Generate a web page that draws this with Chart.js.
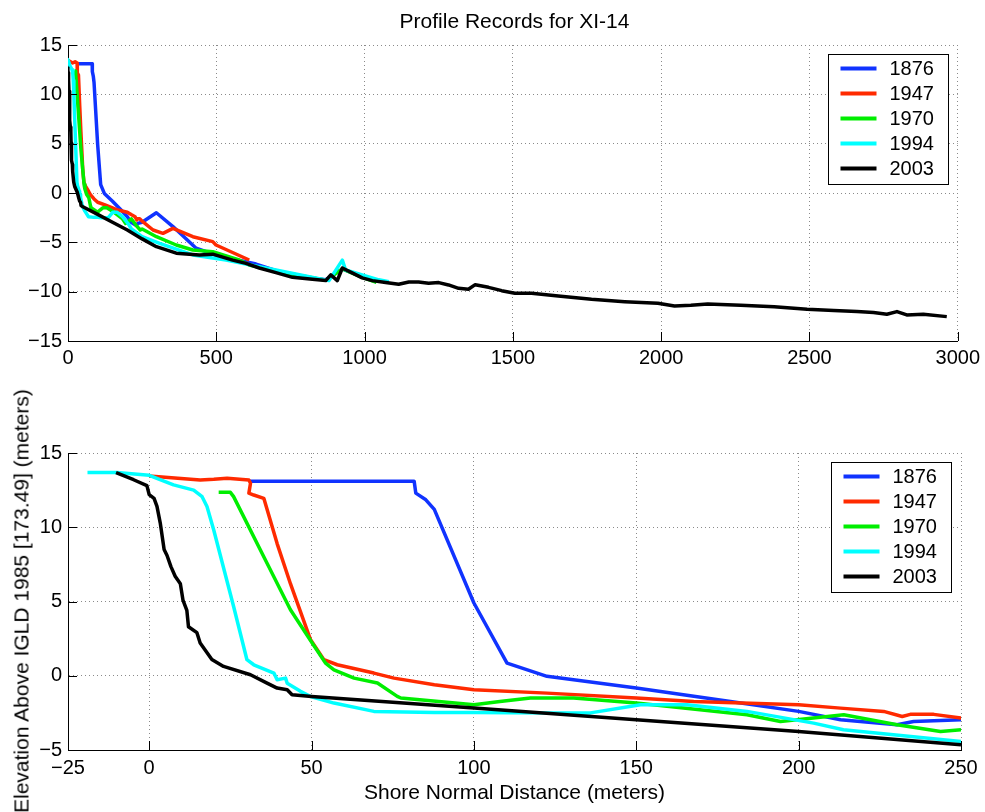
<!DOCTYPE html>
<html>
<head>
<meta charset="utf-8">
<title>Profile Records for XI-14</title>
<script src="https://cdn.jsdelivr.net/npm/chart.js@4.4.0/dist/chart.umd.min.js"></script>
<style>
  html, body { margin: 0; padding: 0; background: #fff; }
  #wrap { position: relative; width: 985px; height: 812px; overflow: hidden; font-family: "Liberation Sans", Arial, Helvetica, sans-serif; }
  .box { position: absolute; left: 0; width: 985px; }
  #top-box { top: 0; height: 380px; }
  #bottom-box { top: 380px; height: 432px; }
  #title { position: absolute; left: 68px; width: 893px; top: 8px; text-align: center; font-size: 21px; line-height: 25px; color: #000; }
  #ylabel { position: absolute; left: 21px; top: 601px; transform: translate(-50%, -50%) rotate(-90deg); white-space: nowrap; font-size: 21px; line-height: 25px; color: #000; }
</style>
</head>
<body>
<div id="wrap">
  <div class="box" id="top-box"><canvas id="topChart"></canvas></div>
  <div class="box" id="bottom-box"><canvas id="bottomChart"></canvas></div>
  <div id="title">Profile Records for XI-14</div>
  <div id="ylabel">Elevation Above IGLD 1985 [173.49] (meters)</div>
</div>
<script>
// survey years and line colours
const years = ["1876", "1947", "1970", "1994", "2003"];
const colors = ["#1033ff", "#ff2a00", "#00ee00", "#00ffff", "#000000"];

// tick values for both panels
const topXTicks = [0, 500, 1000, 1500, 2000, 2500, 3000];
const topYTicks = [-15, -10, -5, 0, 5, 10, 15];
const bottomXTicks = [-25, 0, 50, 100, 150, 200, 250];
const bottomYTicks = [-5, 0, 5, 10, 15];

// profiles: shore normal distance (m) and elevation (m)
const dist1876 = [31, 81.6, 82.1, 85.2, 87.8, 100, 110.2, 122.5, 150, 179, 200, 212.9, 230.3, 235.4, 250,
  297.9, 353.9, 432, 499, 634, 757, 869, 925, 992, 1040];
const elev1876 = [13.1, 13.1, 12.3, 11.85, 11.2, 4.9, 0.85, -0.04, -0.83, -1.73, -2.4, -2.96, -3.3, -3.08, -2.96,
  -2.0, -3.4, -5.6, -6.3, -7.2, -8.4, -8.8, -7.7, -8.5, -9.0];

const dist1947 = [0, 15.7, 19.9, 24, 30.7, 31.2, 30.7, 32.2, 35.3, 39.4, 43.5, 49.7, 53.8, 57.9, 69.2, 75.4, 87.8, 100,
  122.5, 150, 167.7, 200, 212.9, 226.2, 231.9, 234.4, 241.6, 250, 286.7, 320.3, 353.9, 421, 488, 499, 611];
const elev1947 = [13.45, 13.18, 13.23, 13.3, 13.18, 12.96, 12.3, 12.17, 11.95, 8.9, 6.2, 2.42, 1.08, 0.74, 0.18, -0.16, -0.6, -0.94,
  -1.17, -1.5, -1.73, -1.95, -2.18, -2.4, -2.74, -2.6, -2.6, -2.85, -3.75, -4.09, -3.58, -4.43, -4.93, -5.27, -6.79];

const dist1970 = [21.4, 25, 26, 36.3, 43.5, 50.2, 54.3, 56.9, 63.1, 70.3, 76.4, 77.5, 100, 108, 117.4, 130.7, 150,
  184.1, 194.4, 213.9, 230.3, 243.7, 250, 298, 365, 421, 488, 577, 611, 701, 869, 925, 992, 1040];
const elev1970 = [12.35, 12.35, 12.06, 7.58, 4.44, 2.2, 0.85, 0.4, -0.16, -0.49, -1.39, -1.5, -1.95, -1.73, -1.5, -1.5, -1.84,
  -2.63, -3.08, -2.63, -3.3, -3.75, -3.64, -4.43, -5.27, -5.78, -5.95, -6.79, -7.3, -7.9, -8.85, -7.7, -8.55, -9.05];

const dist1994 = [-19, -10, 0, 7.5, 13.7, 16.3, 17.8, 19.9, 26, 30.1, 32.2, 38.4, 39.4, 42, 42.5, 46.6, 49.7, 56.9, 69.2,
  87.8, 100, 112.2, 135.9, 151.3, 165.6, 184.1, 204.6, 213.8, 250, 309, 421, 533, 701, 880, 925, 936, 992, 1048, 1082];
const elev1994 = [13.68, 13.68, 13.5, 12.85, 12.5, 12.06, 11.4, 9.8, 4.66, 1.08, 0.74, 0.18, -0.27, -0.16, -0.5, -1.05, -1.4, -1.84, -2.4,
  -2.47, -2.47, -2.5, -2.5, -1.95, -1.95, -2.4, -3.19, -3.64, -4.42, -5.1, -6.28, -6.8, -7.8, -8.88, -6.8, -7.8, -8.3, -8.8, -8.99];

const dist2003 = [-10.2, -4.8, -0.7, 0, 1.5, 2.4, 3.4, 4.6, 5.5, 6.7, 8, 9.6, 10.4, 11.6, 12.1, 14.7, 15.7, 19.3, 22.9,
  31.2, 36.3, 39.4, 42.5, 44, 50, 100, 150, 200, 250, 298, 365, 443, 488, 555, 600, 645, 701, 757, 824, 869, 886,
  908, 925, 958, 992, 1026, 1071, 1115, 1149, 1182, 1216, 1250, 1283, 1317, 1350, 1373, 1418, 1462, 1507, 1563,
  1653, 1765, 1877, 1989, 2045, 2100, 2157, 2268, 2381, 2492, 2582, 2660, 2716, 2761, 2795, 2828, 2884, 2963];
const elev2003 = [13.68, 13.2, 12.8, 12.2, 11.95, 11.4, 10.3, 8.5, 8.1, 7.35, 6.7, 6.2, 5.1, 4.4, 3.3, 2.9, 2.2, 1.1, 0.63,
  0.07, -0.5, -0.83, -0.94, -1.28, -1.4, -2.17, -2.96, -3.75, -4.65, -5.44, -6.1, -6.28, -6.2, -6.8, -7.13, -7.6, -8.07, -8.55, -8.75, -8.88, -8.3,
  -8.88, -7.6, -8.1, -8.6, -8.88, -9.08, -9.25, -9.02, -9.02, -9.15, -9.08, -9.32, -9.66, -9.76, -9.29, -9.56, -9.9, -10.16, -10.16,
  -10.43, -10.77, -11.01, -11.18, -11.45, -11.38, -11.25, -11.38, -11.52, -11.79, -11.92, -12.02, -12.12, -12.29, -12.02, -12.36, -12.29, -12.53];

const distances = [dist1876, dist1947, dist1970, dist1994, dist2003];
const elevations = [elev1876, elev1947, elev1970, elev1994, elev2003];

const FONT = '"Liberation Sans", Arial, Helvetica, sans-serif';
Chart.defaults.font.family = FONT;
Chart.defaults.font.size = 20;
Chart.defaults.color = "#000";

function buildDatasets() {
  return years.map((year, i) => ({
    label: year,
    data: distances[i].map((d, k) => ({ x: d, y: elevations[i][k] })),
    borderColor: colors[i],
    backgroundColor: colors[i],
    borderWidth: 3.5,
    pointRadius: 0,
    tension: 0,
    fill: false,
    borderJoinStyle: "round",
    // later surveys drawn on top, as in the original
    order: years.length - 1 - i,
  }));
}

function minusSign(value) {
  return String(value).replace("-", "\u2212");
}

// short solid tick marks pointing into the plot
const inwardTicks = {
  id: "inwardTicks",
  afterDraw(chart) {
    const { ctx, chartArea, scales } = chart;
    ctx.save();
    ctx.strokeStyle = "#000";
    ctx.lineWidth = 1;
    ctx.beginPath();
    scales.x.ticks.forEach((t) => {
      const px = Math.round(scales.x.getPixelForValue(t.value)) + 0.5;
      ctx.moveTo(px, chartArea.bottom);
      ctx.lineTo(px, chartArea.bottom - 9);
    });
    scales.y.ticks.forEach((t) => {
      const py = Math.round(scales.y.getPixelForValue(t.value)) + 0.5;
      ctx.moveTo(chartArea.left, py);
      ctx.lineTo(chartArea.left + 9, py);
    });
    ctx.stroke();
    ctx.restore();
  },
};

// boxed legend in the upper right corner of the axes
const boxedLegend = {
  id: "boxedLegend",
  afterDraw(chart) {
    const { ctx, chartArea } = chart;
    const w = 120;
    const h = 130;
    const left = Math.round(chartArea.right - 10 - w) + 0.5;
    const top = Math.round(chartArea.top + 9) + 0.5;
    ctx.save();
    ctx.fillStyle = "#fff";
    ctx.fillRect(left, top, w, h);
    ctx.strokeStyle = "#000";
    ctx.lineWidth = 1;
    ctx.strokeRect(left, top, w, h);
    ctx.font = "20px " + FONT;
    ctx.textAlign = "left";
    ctx.textBaseline = "middle";
    years.forEach((year, i) => {
      const y = top + 14 + i * 25;
      ctx.strokeStyle = colors[i];
      ctx.lineWidth = 4;
      ctx.beginPath();
      ctx.moveTo(left + 12, y);
      ctx.lineTo(left + 48, y);
      ctx.stroke();
      ctx.fillStyle = "#000";
      ctx.fillText(year, left + 61, y + 1);
    });
    ctx.restore();
  },
};

function axis(ticksList, min, max, extra) {
  return Object.assign(
    {
      type: "linear",
      min: min,
      max: max,
      afterBuildTicks: (scale) => {
        scale.ticks = ticksList.map((v) => ({ value: v }));
      },
      grid: { color: "#8a8a8a", lineWidth: 1, drawTicks: false },
      border: { display: true, color: "#000", width: 1, dash: [1, 3] },
      ticks: { callback: minusSign, maxRotation: 0, autoSkip: false },
    },
    extra,
  );
}

function makeChart(canvasId, opts) {
  const ctx = document.getElementById(canvasId).getContext("2d");
  return new Chart(ctx, {
    type: "line",
    data: { datasets: buildDatasets() },
    options: {
      responsive: true,
      maintainAspectRatio: false,
      animation: false,
      layout: { padding: { left: 0, right: 24, top: opts.padTop, bottom: 0 } },
      plugins: { legend: { display: false }, tooltip: { enabled: false }, title: { display: false } },
      scales: {
        x: axis(opts.xTicks, opts.xMin, opts.xMax, {
          position: "bottom",
          title: opts.xTitle
            ? { display: true, text: opts.xTitle, font: { size: 21 }, padding: { top: 0, bottom: 6 } }
            : { display: false },
          ticks: { callback: minusSign, maxRotation: 0, autoSkip: false, padding: opts.xPad },
          afterFit: (scale) => {
            scale.height = opts.xHeight;
          },
        }),
        y: axis(opts.yTicks, opts.yMin, opts.yMax, {
          position: "left",
          ticks: { callback: minusSign, autoSkip: false, padding: 6 },
          afterFit: (scale) => {
            scale.width = 68;
          },
        }),
      },
    },
    plugins: [inwardTicks, boxedLegend],
  });
}

// overview of the whole profile
makeChart("topChart", {
  padTop: 45,
  xTicks: topXTicks, xMin: 0, xMax: 3000,
  yTicks: topYTicks, yMin: -15, yMax: 15,
  xHeight: 39, xPad: 5,
});

// close-up of the nearshore part
makeChart("bottomChart", {
  padTop: 73,
  xTicks: bottomXTicks, xMin: -25, xMax: 250,
  yTicks: bottomYTicks, yMin: -5, yMax: 15,
  xHeight: 62, xPad: 6,
  xTitle: "Shore Normal Distance (meters)",
});
</script>
</body>
</html>
